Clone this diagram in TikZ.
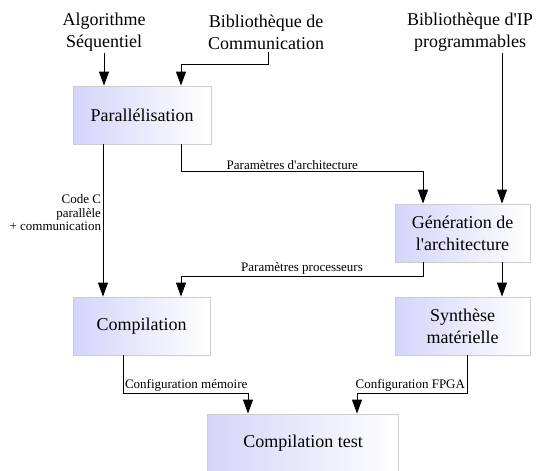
\documentclass[tikz,border=0pt]{standalone}
\usepackage{fontspec}
\setmainfont{Liberation Serif}
\usetikzlibrary{arrows.meta}
\definecolor{boxleft}{RGB}{212,212,250}
\definecolor{boxline}{RGB}{205,205,205}
\tikzset{
  box/.style={draw=boxline, line width=0.8pt, left color=boxleft, right color=white,
    minimum width=137pt, minimum height=58pt, align=center, inner sep=2pt,
    font=\fontsize{18}{22}\selectfont},
  src/.style={align=center, inner sep=2pt, font=\fontsize{18}{22}\selectfont},
  lbl/.style={inner sep=1.5pt, font=\fontsize{13}{13.5}\selectfont},
  arr/.style={line width=1pt, -{Triangle[length=14pt,width=10pt]}}
}
\begin{document}
\begin{tikzpicture}[x=1pt,y=-1pt]
  \useasboundingbox (0,0) rectangle (538,471);
  \draw
    (104,32) node[src] (algo){Algorithme\\Séquentiel}
    (266,32) node[src] (comlib){Bibliothèque de\\Communication}
    (470,32) node[src] (iplib){Bibliothèque d\textquotesingle IP\\programmables}
    (142,115) node[box, minimum width=138pt] (par){Parallélisation}
    (462.5,233) node[box, minimum width=135pt] (gen){Génération de\\l\textquotesingle architecture}
    (141.5,326) node[box] (comp){Compilation}
    (462.5,326) node[box, minimum width=135pt] (synth){Synthèse\\matérielle}
    (303,443) node[box, minimum width=191pt] (test){Compilation test};
  \begin{scope}[arr]
    \draw (algo.south) -- (algo.south |- par.north);
    \draw ([xshift=2pt]comlib.south) -- ([xshift=2pt,yshift=-13pt]comlib.south)
      -| ([xshift=39pt]par.north);
    \draw ([xshift=32pt]iplib.south) -- ([xshift=39.5pt]gen.north);
    \draw ([xshift=39pt]par.south) -- ([xshift=39pt,yshift=-27pt]par.south)
      -| node[lbl, pos=0.23, above]{Paramètres d\textquotesingle architecture} ([xshift=-39.5pt]gen.north);
    \draw ([xshift=-39pt]par.south) -- node[lbl, pos=0.45, left, align=right]
      {Code C\\parallèle\\+ communication} ([xshift=-38.5pt]comp.north);
    \draw ([xshift=-39.5pt]gen.south) -- ([xshift=-39.5pt,yshift=-14pt]gen.south)
      -| node[lbl, pos=0.25, above]{Paramètres processeurs} ([xshift=39.5pt]comp.north);
    \draw ([xshift=39.5pt]gen.south) -- ([xshift=39.5pt]synth.north);
    \draw ([xshift=-18.5pt]comp.south) -- ([xshift=-18.5pt,yshift=-38pt]comp.south)
      node[lbl, above right]{Configuration mémoire} -| ([xshift=-55pt]test.north);
    \draw ([xshift=4.5pt]synth.south) -- ([xshift=4.5pt,yshift=-38pt]synth.south)
      node[lbl, above left]{Configuration FPGA} -| ([xshift=54pt]test.north);
  \end{scope}
\end{tikzpicture}
\end{document}
